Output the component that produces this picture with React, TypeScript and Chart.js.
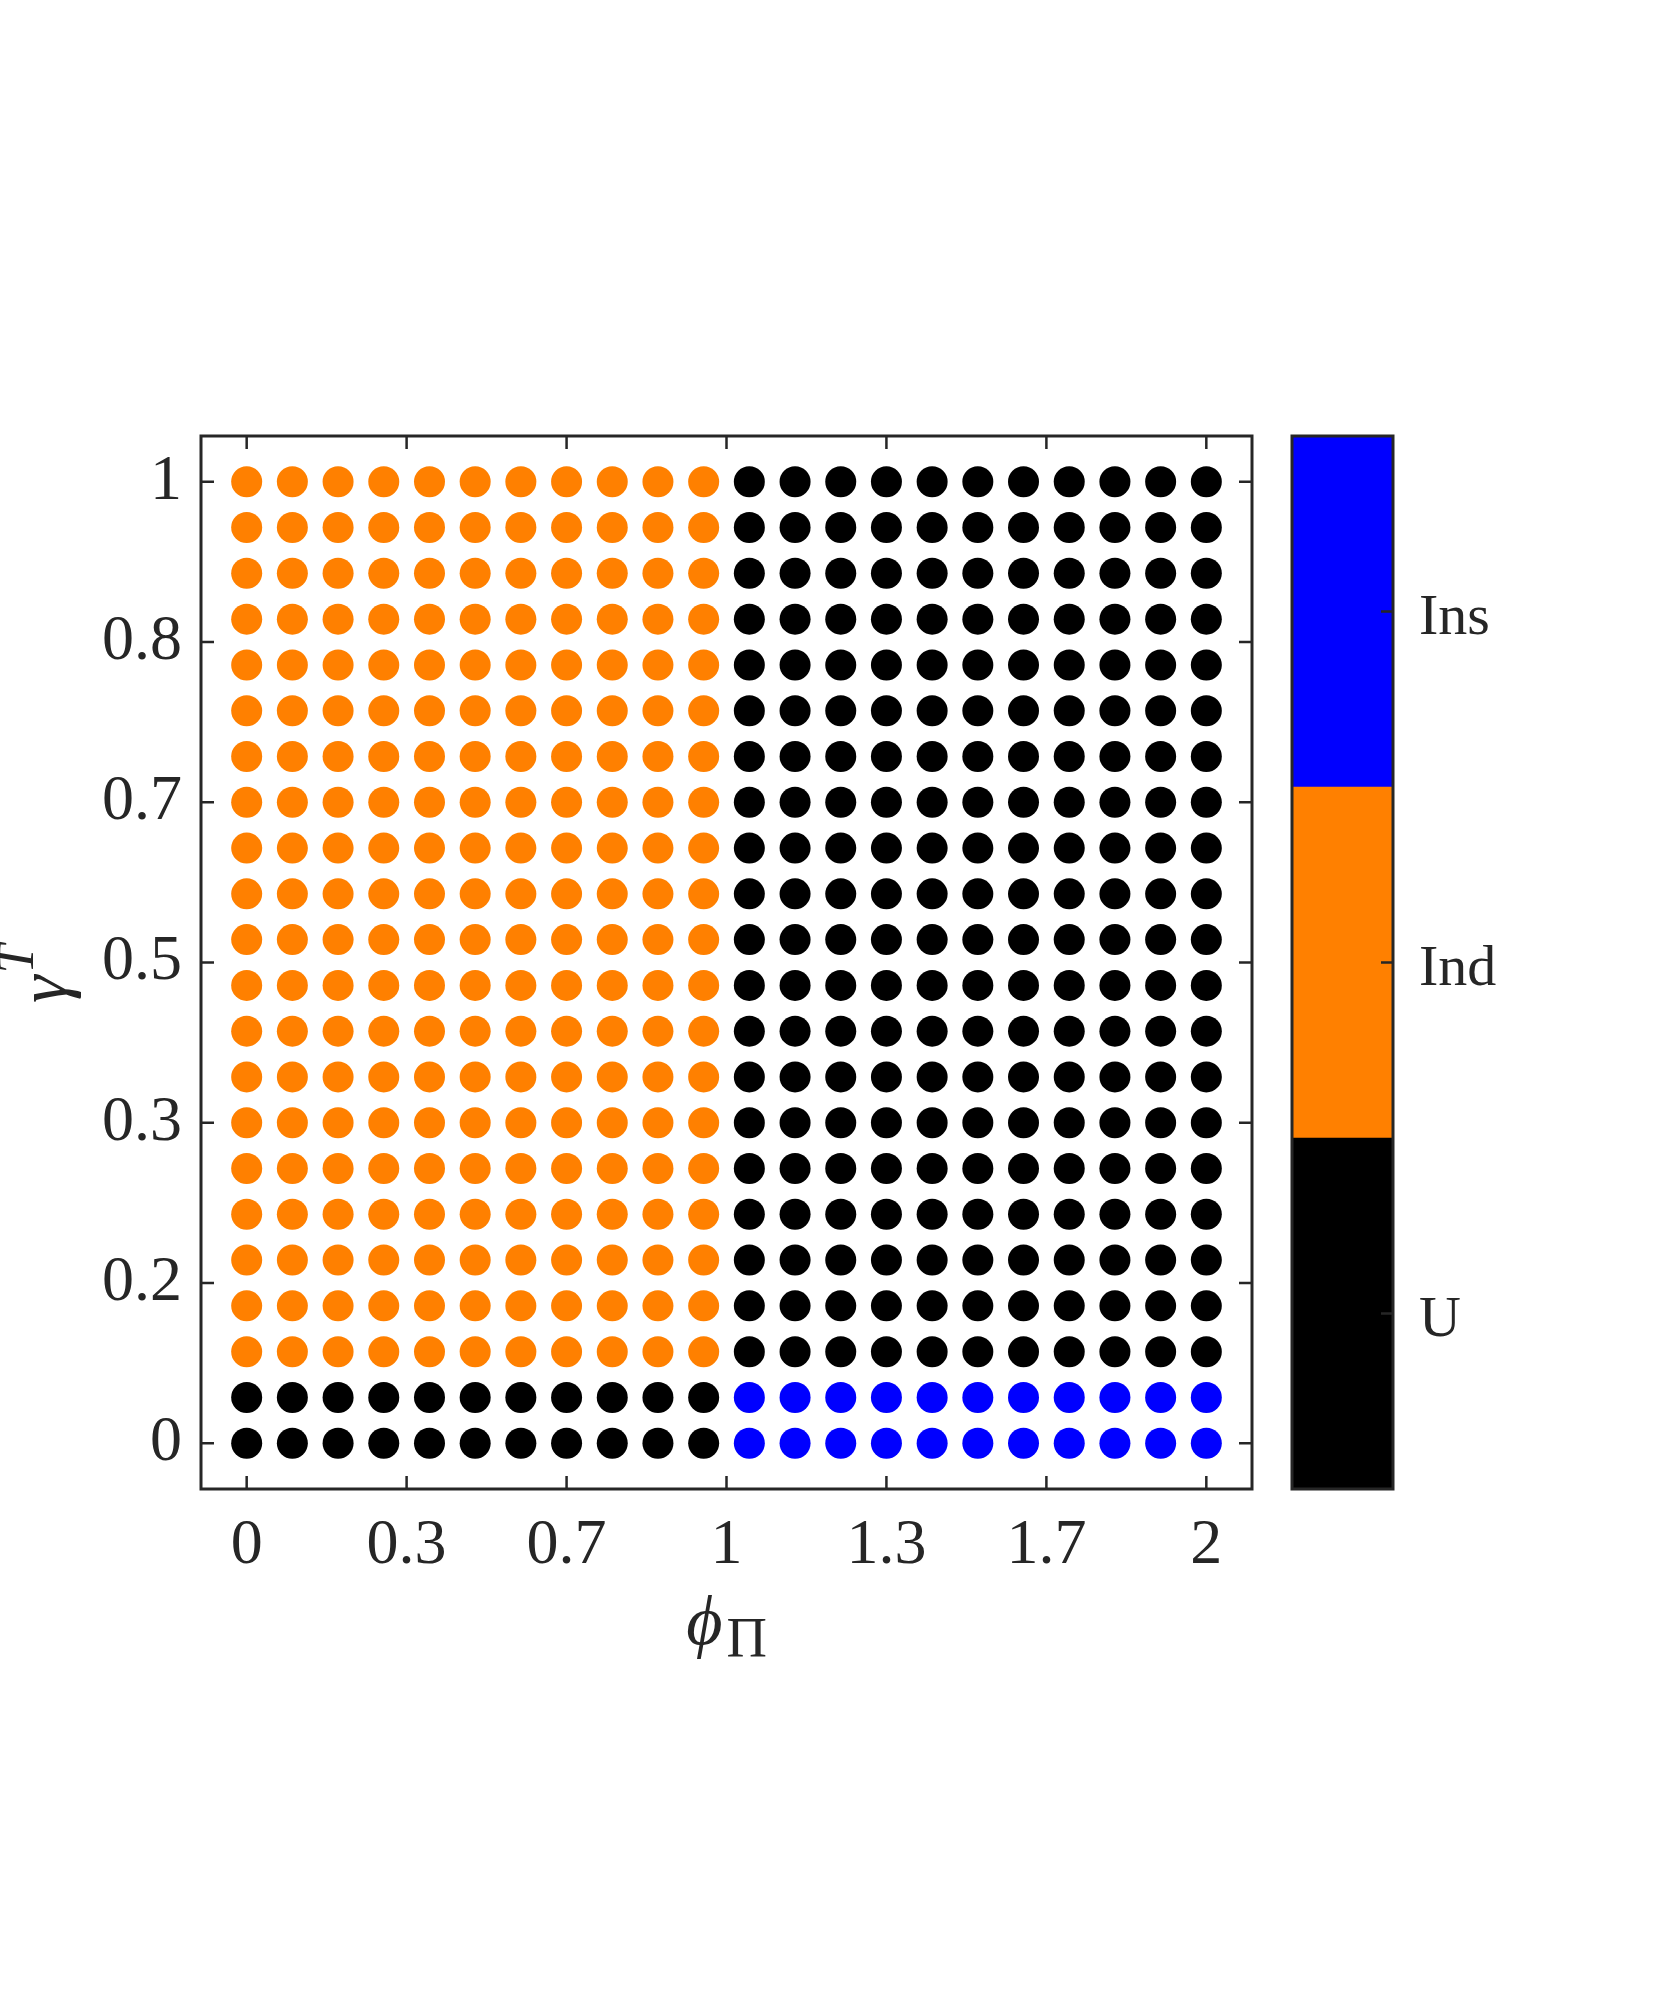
import React, { useEffect, useRef } from 'react';
import { Chart, registerables } from 'chart.js';

Chart.register(...registerables);

// Grid of parameter values (phi_Pi on x, gamma^T on y)
const phiPi = [
  0, 0.0952, 0.1905, 0.2857, 0.381, 0.4762, 0.5714, 0.6667, 0.7619, 0.8571, 0.9524,
  1.0476, 1.1429, 1.2381, 1.3333, 1.4286, 1.5238, 1.619, 1.7143, 1.8095, 1.9048, 2,
];
const gammaT = [
  0, 0.0476, 0.0952, 0.1429, 0.1905, 0.2381, 0.2857, 0.3333, 0.381, 0.4286, 0.4762,
  0.5238, 0.5714, 0.619, 0.6667, 0.7143, 0.7619, 0.8095, 0.8571, 0.9048, 0.9524, 1,
];
// Regime per grid cell; one string per gammaT row (row 0 = gammaT 0), one char per phiPi column.
// U = determinate (black), D = indeterminate (orange), S = instability (blue)
const regimeRows = [
  'UUUUUUUUUUUSSSSSSSSSSS',
  'UUUUUUUUUUUSSSSSSSSSSS',
  'DDDDDDDDDDDUUUUUUUUUUU',
  'DDDDDDDDDDDUUUUUUUUUUU',
  'DDDDDDDDDDDUUUUUUUUUUU',
  'DDDDDDDDDDDUUUUUUUUUUU',
  'DDDDDDDDDDDUUUUUUUUUUU',
  'DDDDDDDDDDDUUUUUUUUUUU',
  'DDDDDDDDDDDUUUUUUUUUUU',
  'DDDDDDDDDDDUUUUUUUUUUU',
  'DDDDDDDDDDDUUUUUUUUUUU',
  'DDDDDDDDDDDUUUUUUUUUUU',
  'DDDDDDDDDDDUUUUUUUUUUU',
  'DDDDDDDDDDDUUUUUUUUUUU',
  'DDDDDDDDDDDUUUUUUUUUUU',
  'DDDDDDDDDDDUUUUUUUUUUU',
  'DDDDDDDDDDDUUUUUUUUUUU',
  'DDDDDDDDDDDUUUUUUUUUUU',
  'DDDDDDDDDDDUUUUUUUUUUU',
  'DDDDDDDDDDDUUUUUUUUUUU',
  'DDDDDDDDDDDUUUUUUUUUUU',
  'DDDDDDDDDDDUUUUUUUUUUU',
];
const regimeCodes = ['U', 'D', 'S'];
const regimeNames = ['U', 'Ind', 'Ins'];
const regimeColors = ['#000000', '#FF8000', '#0000FF'];

const xTickValues = [0, 0.3333, 0.6667, 1, 1.3333, 1.6667, 2];
const xTickLabels = ['0', '0.3', '0.7', '1', '1.3', '1.7', '2'];
const yTickValues = [0, 0.1667, 0.3333, 0.5, 0.6667, 0.8333, 1];
const yTickLabels = ['0', '0.2', '0.3', '0.5', '0.7', '0.8', '1'];

const colorbarSegments = [1, 1, 1];
const colorbarTickValues = [0.5, 1.5, 2.5];

const FONT = "'Liberation Serif', 'Times New Roman', serif";
const INK = '#262626';

const mainFramePlugin = {
  id: 'mainFrame',
  afterDraw(chart: any) {
    const { ctx, chartArea: a, scales } = chart;
    ctx.save();
    ctx.strokeStyle = INK;
    ctx.lineWidth = 3;
    ctx.strokeRect(a.left, a.top, a.right - a.left, a.bottom - a.top);
    ctx.lineWidth = 2.5;
    ctx.beginPath();
    const tl = 13;
    xTickValues.forEach((v) => {
      const px = scales.x.getPixelForValue(v);
      ctx.moveTo(px, a.bottom);
      ctx.lineTo(px, a.bottom - tl);
      ctx.moveTo(px, a.top);
      ctx.lineTo(px, a.top + tl);
    });
    yTickValues.forEach((v) => {
      const py = scales.y.getPixelForValue(v);
      ctx.moveTo(a.left, py);
      ctx.lineTo(a.left + tl, py);
      ctx.moveTo(a.right, py);
      ctx.lineTo(a.right - tl, py);
    });
    ctx.stroke();

    // x-axis title: phi_Pi
    ctx.fillStyle = INK;
    ctx.textBaseline = 'alphabetic';
    ctx.textAlign = 'left';
    const cx = (a.left + a.right) / 2;
    const phi = '\u03D5';
    ctx.font = `italic 70px ${FONT}`;
    const w1 = ctx.measureText(phi).width;
    ctx.font = `56px ${FONT}`;
    const w2 = ctx.measureText('Π').width;
    const gap = 4;
    const x0 = cx - (w1 + gap + w2) / 2;
    ctx.font = `italic 70px ${FONT}`;
    ctx.fillText(phi, x0, 1644);
    ctx.font = `56px ${FONT}`;
    ctx.fillText('Π', x0 + w1 + gap, 1657);

    // y-axis title: gamma^T (rotated)
    ctx.save();
    ctx.translate(66, 1003);
    ctx.rotate(-Math.PI / 2);
    ctx.font = `italic 70px ${FONT}`;
    const wg = ctx.measureText('γ').width;
    ctx.fillText('γ', 0, 0);
    ctx.font = `italic 52px ${FONT}`;
    ctx.fillText('T', wg + 2, -33);
    ctx.restore();

    ctx.restore();
  },
};

const colorbarFramePlugin = {
  id: 'colorbarFrame',
  afterDraw(chart: any) {
    const { ctx, chartArea: a, scales } = chart;
    ctx.save();
    ctx.strokeStyle = INK;
    ctx.lineWidth = 3;
    ctx.strokeRect(a.left, a.top, a.right - a.left, a.bottom - a.top);
    ctx.lineWidth = 2.5;
    ctx.beginPath();
    colorbarTickValues.forEach((v) => {
      const py = scales.y.getPixelForValue(v);
      ctx.moveTo(a.right, py);
      ctx.lineTo(a.right - 12, py);
    });
    ctx.stroke();
    ctx.restore();
  },
};

export default function App() {
  const mainRef = useRef<HTMLCanvasElement>(null);
  const barRef = useRef<HTMLCanvasElement>(null);

  useEffect(() => {
    const datasets = regimeCodes.map((code, r) => {
      const pts: { x: number; y: number }[] = [];
      gammaT.forEach((g, j) => {
        phiPi.forEach((p, i) => {
          if (regimeRows[j][i] === code) pts.push({ x: p, y: g });
        });
      });
      return {
        label: regimeNames[r],
        data: pts,
        backgroundColor: regimeColors[r],
        borderWidth: 0,
        pointRadius: 15.5,
        pointHoverRadius: 15.5,
      };
    });

    const tickFont = { family: FONT, size: 64 };

    const main = new Chart(mainRef.current as HTMLCanvasElement, {
      type: 'scatter',
      data: { datasets },
      options: {
        animation: false,
        responsive: false,
        layout: { padding: { top: 436, right: 28, left: 0, bottom: 0 } },
        plugins: { legend: { display: false }, tooltip: { enabled: false } },
        scales: {
          x: {
            type: 'linear',
            min: -0.0952,
            max: 2.0952,
            grid: { display: false, drawTicks: false },
            border: { display: false },
            afterBuildTicks: (s: any) => {
              s.ticks = xTickValues.map((v) => ({ value: v }));
            },
            afterFit: (s: any) => {
              s.height = 211;
            },
            ticks: {
              autoSkip: false,
              maxRotation: 0,
              minRotation: 0,
              padding: 19,
              color: INK,
              font: tickFont,
              callback: (_v: any, i: number) => xTickLabels[i],
            },
          },
          y: {
            type: 'linear',
            min: -0.0476,
            max: 1.0476,
            grid: { display: false, drawTicks: false },
            border: { display: false },
            afterBuildTicks: (s: any) => {
              s.ticks = yTickValues.map((v) => ({ value: v }));
            },
            afterFit: (s: any) => {
              s.width = 201;
            },
            ticks: {
              autoSkip: false,
              padding: 19,
              color: INK,
              font: tickFont,
              callback: (_v: any, i: number) => yTickLabels[i],
            },
          },
        },
      } as any,
      plugins: [mainFramePlugin],
    });

    const bar = new Chart(barRef.current as HTMLCanvasElement, {
      type: 'bar',
      data: {
        labels: ['regime'],
        datasets: regimeNames.map((n, r) => ({
          label: n,
          data: [colorbarSegments[r]],
          backgroundColor: regimeColors[r],
          borderWidth: 0,
          barPercentage: 1,
          categoryPercentage: 1,
        })),
      },
      options: {
        animation: false,
        responsive: false,
        layout: { padding: { top: 436, right: 0, left: 32, bottom: 211 } },
        plugins: { legend: { display: false }, tooltip: { enabled: false } },
        scales: {
          x: { stacked: true, display: false },
          y: {
            stacked: true,
            position: 'right',
            min: 0,
            max: 3,
            grid: { display: false, drawTicks: false },
            border: { display: false },
            afterBuildTicks: (s: any) => {
              s.ticks = colorbarTickValues.map((v) => ({ value: v }));
            },
            afterFit: (s: any) => {
              s.width = 267;
            },
            ticks: {
              autoSkip: false,
              padding: 26,
              labelOffset: 7,
              color: INK,
              font: { family: FONT, size: 58 },
              callback: (_v: any, i: number) => regimeNames[i],
            },
          },
        },
      } as any,
      plugins: [colorbarFramePlugin],
    });

    return () => {
      main.destroy();
      bar.destroy();
    };
  }, []);

  return (
    <div style={{ position: 'absolute', left: 0, top: 0, width: 1661, height: 1995, background: '#ffffff' }}>
      <canvas
        ref={mainRef}
        width={1280}
        height={1700}
        style={{ position: 'absolute', left: 0, top: 0, width: 1280, height: 1700 }}
      />
      <canvas
        ref={barRef}
        width={400}
        height={1700}
        style={{ position: 'absolute', left: 1260, top: 0, width: 400, height: 1700 }}
      />
    </div>
  );
}
